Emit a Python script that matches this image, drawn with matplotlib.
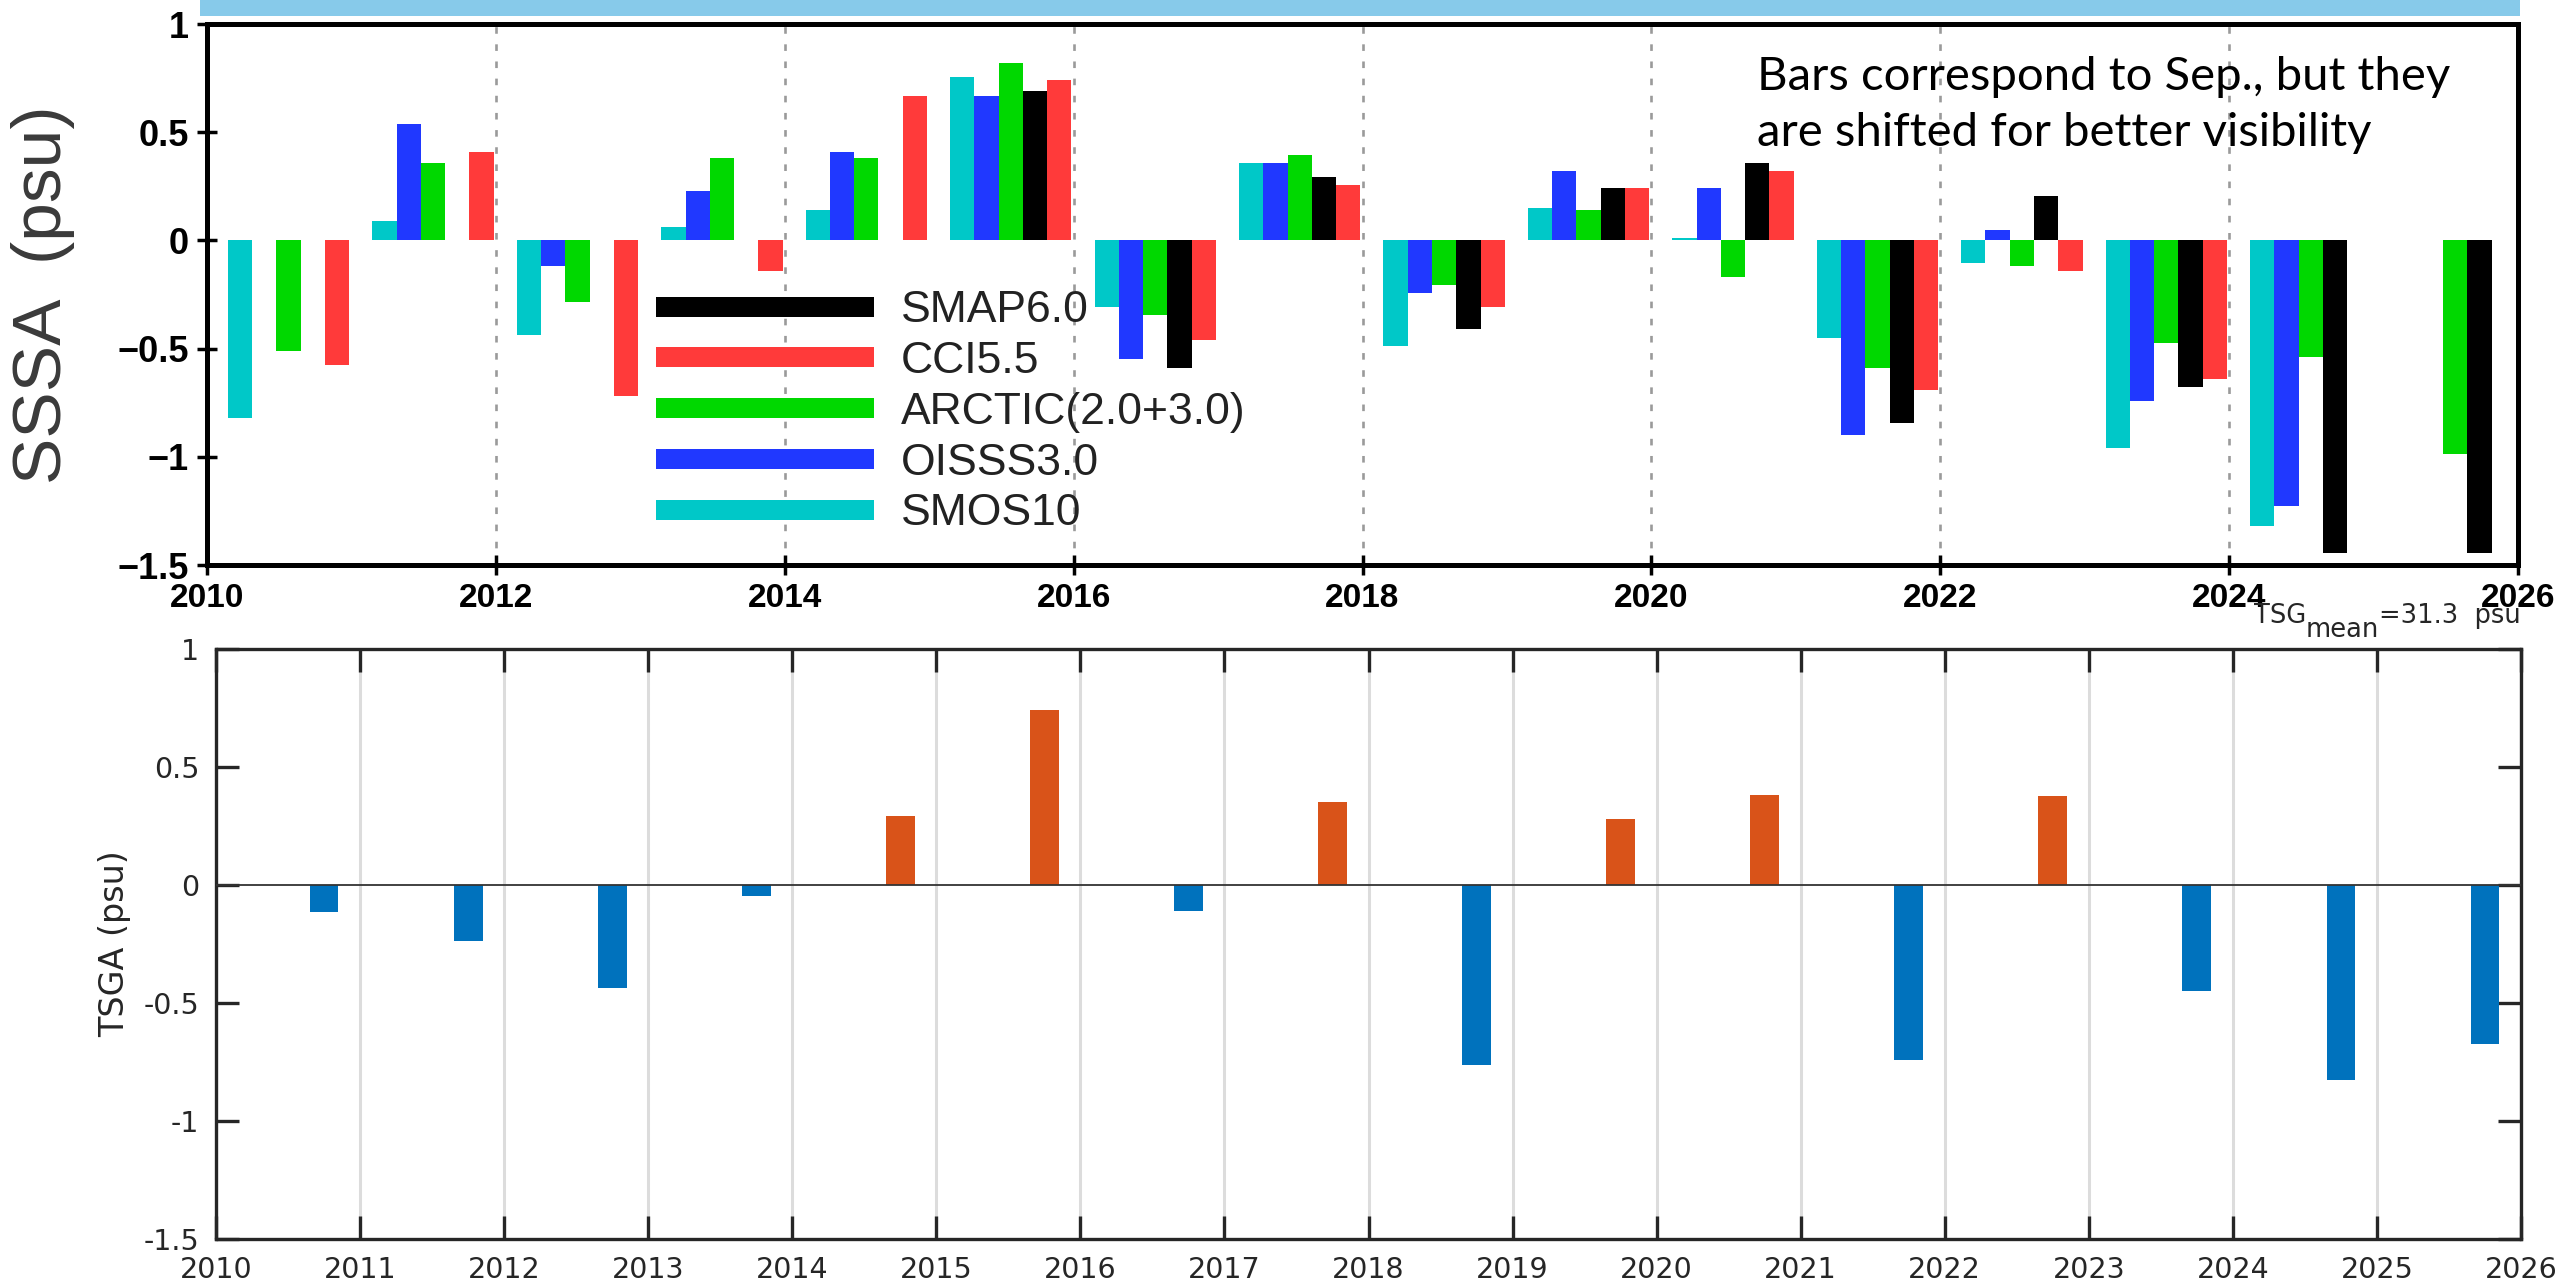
import numpy as np
import matplotlib
matplotlib.use("Agg")
import matplotlib.pyplot as plt
from matplotlib.lines import Line2D
from matplotlib.patches import Rectangle
from matplotlib import font_manager as fm
from matplotlib.ticker import FuncFormatter

nan = np.nan

# ---------------- data ----------------
years = list(range(2010, 2026))

smos10 = [-0.82, 0.09, -0.435, 0.064, 0.139, 0.754, -0.306, 0.358, -0.488, 0.152,
          0.013, -0.450, -0.103, -0.961, -1.319, nan]
oisss30 = [nan, 0.536, -0.117, 0.229, 0.409, 0.666, -0.550, 0.358, -0.242, 0.319,
           0.242, -0.897, 0.050, -0.743, -1.229, nan]
arctic = [-0.512, 0.358, -0.283, 0.382, 0.382, 0.818, -0.347, 0.396, -0.204, 0.139,
          -0.167, -0.591, -0.116, -0.472, -0.539, -0.985]
smap60 = [nan, nan, nan, nan, nan, 0.690, -0.591, 0.294, -0.411, 0.242,
          0.358, -0.846, 0.204, -0.679, -1.444, -1.444]
cci55 = [-0.576, 0.409, -0.717, -0.143, 0.666, 0.741, -0.461, 0.255, -0.306, 0.242,
         0.319, -0.692, -0.141, -0.642, nan, nan]

series_names = ["SMOS10", "OISSS3.0", "ARCTIC(2.0+3.0)", "SMAP6.0", "CCI5.5"]
series_vals = [smos10, oisss30, arctic, smap60, cci55]
series_cols = ["#00C8C8", "#2038FF", "#00D800", "#000000", "#FF3A3A"]
legend_order = ["SMAP6.0", "CCI5.5", "ARCTIC(2.0+3.0)", "OISSS3.0", "SMOS10"]

tsga = [-0.114, -0.237, -0.436, -0.048, 0.293, 0.742, -0.109, 0.353, -0.762, 0.280,
        0.381, -0.743, 0.375, -0.449, -0.828, -0.672]

top_xticks = list(range(2010, 2027, 2))
bot_xticks = list(range(2010, 2027))
yticks = [-1.5, -1, -0.5, 0, 0.5, 1]

annot_text = "Bars correspond to Sep., but they\nare shifted for better visibility"

# ---------------- fonts ----------------
names = {f.name for f in fm.fontManager.ttflist}
if "Liberation Sans Narrow" in names:
    leg_family, leg_size = "Liberation Sans Narrow", 37
else:
    leg_family, leg_size = "Liberation Sans", 32
bold_family = "Liberation Sans" if "Liberation Sans" in names else "DejaVu Sans"
annot_family = "Lato" if "Lato" in names else "DejaVu Sans"

W, H = 2557, 1281
fig = plt.figure(figsize=(W / 100, H / 100), dpi=100)

# light blue strip on top
fig.add_artist(Rectangle((200 / W, 1 - 16 / H), (2520 - 200) / W, 16 / H,
                         transform=fig.transFigure, color="#87CAEA", lw=0))

# ---------------- top panel ----------------
ax1 = fig.add_axes([207 / W, 1 - 565 / H, (2518 - 207) / W, (565 - 24) / H])
slot = 0.168
start = 0.145
yrs = np.array(years, dtype=float)
for i, (vals, col) in enumerate(zip(series_vals, series_cols)):
    v = np.array(vals, dtype=float)
    m = ~np.isnan(v)
    ax1.bar(yrs[m] + start + slot * (i + 0.5), v[m], width=slot, color=col,
            linewidth=0, zorder=3)

ax1.set_xlim(2010, 2026)
ax1.set_ylim(-1.5, 1)
ax1.set_xticks(top_xticks)
ax1.set_yticks(yticks)
ax1.yaxis.set_major_formatter(FuncFormatter(lambda v, p: f"{v:g}".replace("-", "\u2212")))
for yv in top_xticks[1:-1]:
    ax1.axvline(yv, color="#9a9a9a", lw=1.9, ls=(0, (2.5, 4)), zorder=1)
for s in ax1.spines.values():
    s.set_linewidth(3.6)
    s.set_color("black")
ax1.tick_params(direction="inout", length=14, width=2.5, colors="black", pad=6)
for lbl in ax1.get_xticklabels():
    lbl.set_fontfamily(bold_family)
    lbl.set_fontweight("bold")
    lbl.set_fontsize(24)
for lbl in ax1.get_yticklabels():
    lbl.set_fontfamily(bold_family)
    lbl.set_fontweight("bold")
    lbl.set_fontsize(26)
ax1.set_ylabel("SSSA  (psu)", fontsize=50, family=bold_family, color="#3a3a3a")
ax1.yaxis.set_label_coords(-0.057, 0.5)

handles = []
for nm in legend_order:
    c = series_cols[series_names.index(nm)]
    handles.append(Line2D([], [], color=c, lw=14.4, solid_capstyle="butt"))
leg_px = leg_size * 100 / 72
ax1.legend(handles, legend_order, loc="upper left", bbox_to_anchor=(0.1941, 0.508),
           frameon=False, borderpad=0, borderaxespad=0,
           handlelength=218 / leg_px, handletextpad=27 / leg_px, labelspacing=0.22,
           prop={"family": leg_family, "size": leg_size}, labelcolor="#222222")

ax1.text(0.6707, 0.941, annot_text, transform=ax1.transAxes, ha="left", va="top",
         fontsize=34, family=annot_family, color="black", linespacing=1.42, zorder=5)

# ---------------- bottom panel ----------------
ax2 = fig.add_axes([216 / W, 1 - 1239 / H, (2521 - 216) / W, (1239 - 649) / H])
bcols = ["#D95319" if v > 0 else "#0072BD" for v in tsga]
ax2.bar(yrs + 0.75, tsga, width=0.2, color=bcols, linewidth=0, zorder=3)
ax2.axhline(0, color="#333333", lw=1.3, zorder=4)
ax2.set_xlim(2010, 2026)
ax2.set_ylim(-1.5, 1)
ax2.set_xticks(bot_xticks)
ax2.set_yticks(yticks)
ax2.yaxis.set_major_formatter(FuncFormatter(lambda v, p: f"{v:g}"))
ax2.set_axisbelow(True)
ax2.grid(axis="x", color="#dcdcdc", lw=2.2)
for s in ax2.spines.values():
    s.set_linewidth(2.4)
    s.set_color("#262626")
ax2.tick_params(direction="in", length=16.5, width=2.4, top=True, right=True,
                colors="#262626", labelsize=20.5, pad=12)
ax2.set_ylabel("TSGA (psu)", fontsize=24, color="#262626")
ax2.yaxis.set_label_coords(-0.037, 0.5)

t3 = ax2.text(1.0, 1.044, "=31.3  psu", transform=ax2.transAxes, ha="right",
              va="baseline", fontsize=18.5, color="#262626")
t2 = ax2.annotate("mean", xy=(0, 0), xycoords=t3, xytext=(0, -10),
                  textcoords="offset points", ha="right", va="bottom",
                  fontsize=18.5, color="#262626")
t1 = ax2.annotate("TSG", xy=(0, 0), xycoords=(t2, t3), xytext=(0, 0),
                  textcoords="offset points", ha="right", va="bottom",
                  fontsize=18.5, color="#262626")

fig.savefig("out.png", dpi=100)
